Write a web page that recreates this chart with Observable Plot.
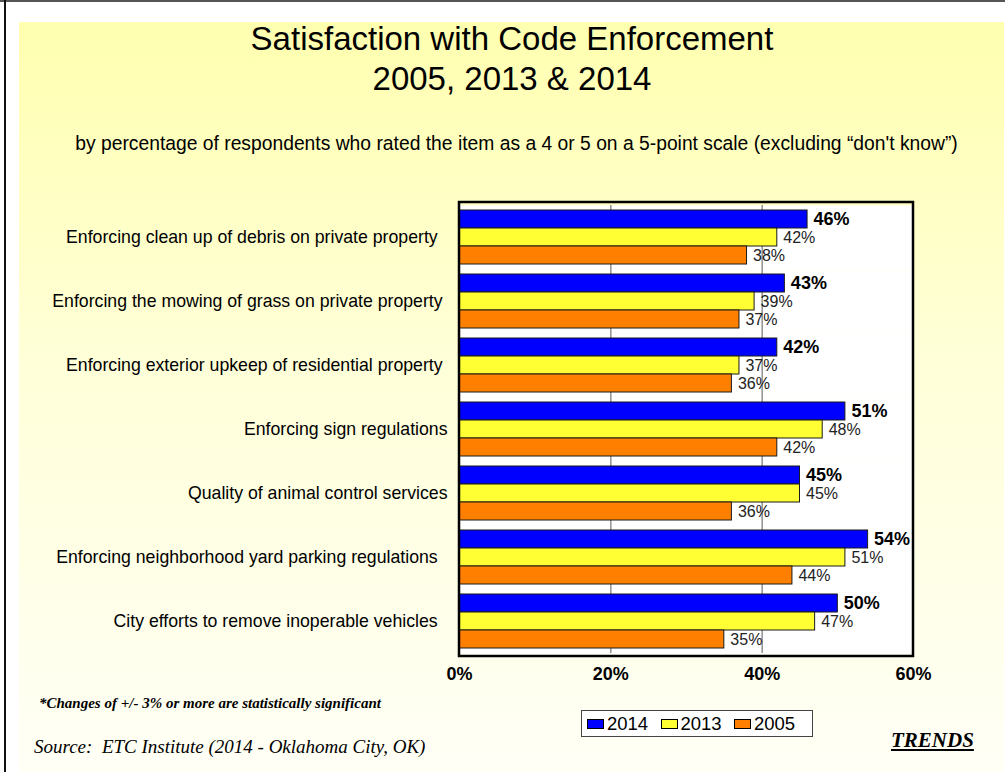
<!DOCTYPE html>
<html>
<head>
<meta charset="utf-8">
<script src="https://cdn.jsdelivr.net/npm/d3@7"></script>
<script src="https://cdn.jsdelivr.net/npm/@observablehq/plot@0.6"></script>
<style>
  html, body { margin: 0; padding: 0; background: #fff; }
  #slide { position: relative; width: 1005px; height: 772px; overflow: hidden; background: #fff; }
  #topline { position: absolute; left: 0; top: 0; width: 1005px; height: 2px; background: #555; }
  #leftline { position: absolute; left: 4px; top: 0; width: 1.5px; height: 772px; background: #111; }
  #panel { position: absolute; left: 19px; top: 22px; width: 985px; height: 750px;
           background: linear-gradient(to bottom, #FFFFB0 0%, #FFFFD8 45%, #FFFFF6 100%); }
  .t { position: absolute; white-space: pre; color: #000; }
  .sans { font-family: Arial, "Liberation Sans", sans-serif; line-height: 1; }
  .serif { font-family: "Times New Roman", "Liberation Serif", serif; line-height: 1; }
  #chart { position: absolute; left: 0; top: 0; }
  #legend { position: absolute; left: 581px; top: 710px; width: 225px; height: 25px;
            border: 1.5px solid #444; background: #fff; display: flex; align-items: center;
            padding-left: 5px; box-sizing: content-box; }
  #legend .item { display: flex; align-items: center; width: 73.5px; }
  #legend .sw { width: 15px; height: 8px; border: 1px solid #000; margin-right: 3px; }
  #legend .lab { font-family: Arial, "Liberation Sans", sans-serif; font-size: 18.5px; line-height: 18px; }
</style>
</head>
<body>
<div id="slide">
  <div id="topline"></div>
  <div id="leftline"></div>
  <div id="panel"></div>
  <div id="chart"></div>
  <div class="t sans" style="left:0;width:1024px;text-align:center;top:22px;font-size:33px;">Satisfaction with Code Enforcement</div>
  <div class="t sans" style="left:0;width:1024px;text-align:center;top:62px;font-size:33px;">2005, 2013 &amp; 2014</div>
  <div class="t sans" style="left:0;width:1033px;text-align:center;top:134px;font-size:19.3px;">by percentage of respondents who rated the item as a 4 or 5 on a 5-point scale (excluding “don't know”)</div>
  <div class="t serif" style="left:39px;top:695.5px;font-size:15px;font-weight:bold;font-style:italic;">*Changes of +/- 3% or more are statistically significant</div>
  <div class="t serif" style="left:34px;top:737px;font-size:19px;font-style:italic;">Source:  ETC Institute (2014 - Oklahoma City, OK)</div>
  <div class="t serif" style="left:891px;top:730px;font-size:21px;font-weight:bold;font-style:italic;text-decoration:underline;">TRENDS</div>
  <div id="legend"></div>
</div>
<script>
// ---- data ----
const categories = [
  "Enforcing clean up of debris on private property  ",
  "Enforcing the mowing of grass on private property ",
  "Enforcing exterior upkeep of residential property ",
  "Enforcing sign regulations",
  "Quality of animal control services",
  "Enforcing neighborhood yard parking regulations  ",
  "City efforts to remove inoperable vehicles  "
];
const years = ["2014", "2013", "2005"];
const values2014 = [46, 43, 42, 51, 45, 54, 50];
const values2013 = [42, 39, 37, 48, 45, 51, 47];
const values2005 = [38, 37, 36, 42, 36, 44, 35];
const xTicks = [0, 20, 40, 60];
const colors = ["#0000FF", "#FFFF33", "#FF8000"];

const seriesValues = {"2014": values2014, "2013": values2013, "2005": values2005};
const data = categories.flatMap((c, i) => years.map(y => ({category: c, year: y, value: seriesValues[y][i]})));

const chart = Plot.plot({
  width: 1005,
  height: 772,
  marginLeft: 459,
  marginRight: 92,
  marginTop: 202,
  marginBottom: 116,
  style: {background: "transparent", fontFamily: "Arial, 'Liberation Sans', sans-serif", color: "#000", overflow: "visible"},
  x: {domain: [0, 60], axis: null},
  y: {domain: years, paddingInner: 0, paddingOuter: 0.234, axis: null},
  fy: {domain: categories, padding: 0, axis: null},
  color: {domain: years, range: colors},
  marks: [
    Plot.frame({fill: "white"}),
    Plot.gridX(xTicks.filter(t => t > 0 && t < 60), {stroke: "#808080", strokeOpacity: 1, strokeWidth: 1.3}),
    Plot.barX(data, {x: "value", y: "year", fy: "category", fill: "year", stroke: "#1a1a1a", strokeWidth: 1}),
    Plot.text(data.filter(d => d.year === "2014"), {
      x: "value", y: "year", fy: "category", text: d => d.value + "%",
      dx: 6, textAnchor: "start", fontWeight: "bold", fontSize: 18, fill: "#000"
    }),
    Plot.text(data.filter(d => d.year !== "2014"), {
      x: "value", y: "year", fy: "category", text: d => d.value + "%",
      dx: 6, textAnchor: "start", fontSize: 16, fill: "#222"
    }),
    Plot.axisX({ticks: xTicks, tickSize: 0, tickPadding: 14, tickFormat: d => d + "%",
      fontWeight: "bold", fontSize: 18, label: null}),
    Plot.axisFy({anchor: "left", tickSize: 0, tickPadding: 12, fontSize: 17.7, label: null,
      tickFormat: d => d.replace(/ /g, "\u00a0")})
  ]
});

// plot-area border drawn from the scales' ranges
const [fx0, fx1] = chart.scale("x").range;
const [fy0, fy1] = chart.scale("fy").range;
d3.select(chart).append("rect")
  .attr("x", fx0).attr("y", fy0)
  .attr("width", fx1 - fx0).attr("height", fy1 - fy0)
  .attr("fill", "none").attr("stroke", "#000").attr("stroke-width", 2.5);

document.getElementById("chart").appendChild(chart);

// legend from the same color scale
const legend = d3.select("#legend");
years.forEach((y, i) => {
  const item = legend.append("div").attr("class", "item");
  item.append("div").attr("class", "sw").style("background", colors[i]);
  item.append("div").attr("class", "lab").text(y);
});
</script>
</body>
</html>
